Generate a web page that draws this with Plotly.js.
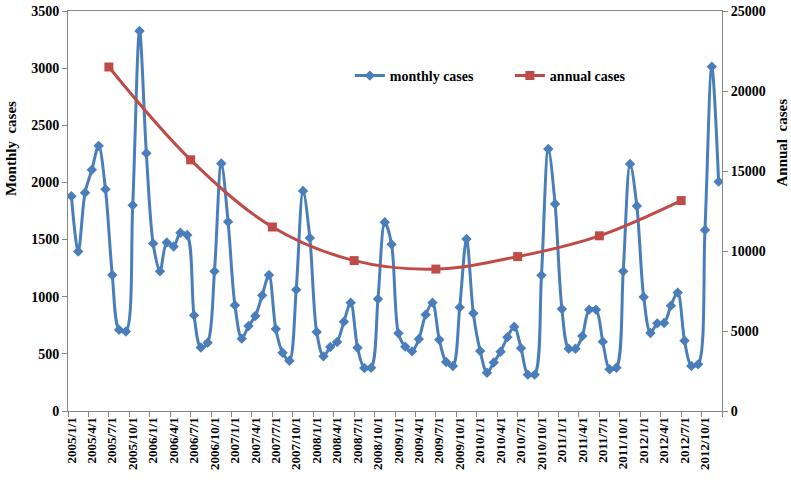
<!DOCTYPE html>
<html>
<head>
<meta charset="utf-8">
<script src="https://cdn.plot.ly/plotly-3.0.1.min.js"></script>
<style>html,body{margin:0;padding:0;background:#fff;}#chart{width:791px;height:480px;}</style>
</head>
<body>
<div id="chart"></div>
<script>
// ---- data ----
const years = [2005, 2006, 2007, 2008, 2009, 2010, 2011, 2012];
const months = [1, 2, 3, 4, 5, 6, 7, 8, 9, 10, 11, 12];
const monthLabels = years.flatMap(y => months.map(m => y + '/' + m + '/1'));
const monthlyCases = [
  1880, 1395, 1910, 2110, 2320, 1940, 1190, 710, 695, 1800, 3325, 2255,
  1465, 1222, 1475, 1440, 1560, 1540, 837, 555, 598, 1222, 2165, 1655,
  925, 633, 744, 831, 1012, 1190, 717, 510, 440, 1062, 1925, 1514,
  691, 478, 560, 604, 782, 948, 554, 376, 379, 980, 1651, 1458,
  680, 563, 522, 630, 843, 948, 624, 429, 394, 907, 1505, 855,
  525, 335, 425, 519, 646, 738, 550, 318, 318, 1187, 2292, 1811,
  892, 545, 545, 656, 887, 887, 607, 365, 379, 1222, 2161, 1794,
  998, 683, 767, 770, 922, 1036, 615, 394, 408, 1584, 3013, 2007
];
const yearLabels = years.map(String);
const annualCases = [21500, 15700, 11500, 9400, 8870, 9650, 10950, 13150];

const FONT = 'Liberation Serif, Times New Roman, serif';
const AX = '#868686';

const traces = [
  {
    name: 'monthly cases',
    x: monthLabels, y: monthlyCases,
    type: 'scatter', mode: 'lines+markers',
    line: {color: '#4A7EBB', width: 3, shape: 'spline', smoothing: 0.9},
    marker: {symbol: 'diamond', size: 8, color: '#4A7EBB'},
    xaxis: 'x', yaxis: 'y'
  },
  {
    name: 'annual cases',
    x: yearLabels, y: annualCases,
    type: 'scatter', mode: 'lines+markers',
    line: {color: '#BE4B48', width: 3, shape: 'spline', smoothing: 1},
    marker: {symbol: 'square', size: 9, color: '#BE4B48'},
    xaxis: 'x2', yaxis: 'y2'
  }
];

const layout = {
  width: 791, height: 480,
  margin: {l: 68, r: 69, t: 11, b: 69},
  paper_bgcolor: '#fff', plot_bgcolor: '#fff',
  font: {family: FONT, color: '#000', size: 14, weight: 'bold'},
  showlegend: true,
  legend: {
    orientation: 'h', x: 0.431, y: 0.8375, xanchor: 'left', yanchor: 'middle',
    bgcolor: 'rgba(0,0,0,0)', borderwidth: 0,
    font: {family: FONT, size: 14, color: '#000', weight: 'bold'},
    entrywidth: 115, entrywidthmode: 'pixels'
  },
  xaxis: {
    type: 'category', range: [-0.5, 95.5],
    tickmode: 'linear', tick0: 0, dtick: 3, tickson: 'boundaries',
    ticks: 'outside', ticklen: 5, tickcolor: AX, tickwidth: 1,
    showline: true, linecolor: AX, linewidth: 1, mirror: true,
    showgrid: false, zeroline: false, tickangle: -90,
    tickfont: {family: FONT, size: 13, color: '#000', weight: 'bold'}
  },
  xaxis2: {
    type: 'category', overlaying: 'x', range: [-0.5, 7.5], visible: false
  },
  yaxis: {
    range: [0, 3500], tickmode: 'linear', tick0: 0, dtick: 500, tickformat: 'd',
    ticks: 'outside', ticklen: 5, tickcolor: AX, tickwidth: 1,
    showline: true, linecolor: AX, linewidth: 1,
    showgrid: false, zeroline: false,
    tickfont: {family: FONT, size: 14, color: '#000', weight: 'bold'}
  },
  yaxis2: {
    overlaying: 'y', side: 'right',
    range: [0, 25000], tickmode: 'linear', tick0: 0, dtick: 5000, tickformat: 'd',
    ticks: 'outside', ticklen: 5, tickcolor: AX, tickwidth: 1,
    showline: true, linecolor: AX, linewidth: 1,
    showgrid: false, zeroline: false,
    tickfont: {family: FONT, size: 14, color: '#000', weight: 'bold'}
  },
  annotations: [
    {text: 'Monthly  cases', xref: 'paper', yref: 'paper', x: -0.087, y: 0.655,
     xanchor: 'center', yanchor: 'middle', textangle: -90, showarrow: false,
     font: {family: FONT, size: 15, color: '#000', weight: 'bold'}},
    {text: 'Annual  cases', xref: 'paper', yref: 'paper', x: 1.091, y: 0.67,
     xanchor: 'center', yanchor: 'middle', textangle: -90, showarrow: false,
     font: {family: FONT, size: 15, color: '#000', weight: 'bold'}}
  ]
};

Plotly.newPlot('chart', traces, layout, {displayModeBar: false, staticPlot: true});
</script>
</body>
</html>
